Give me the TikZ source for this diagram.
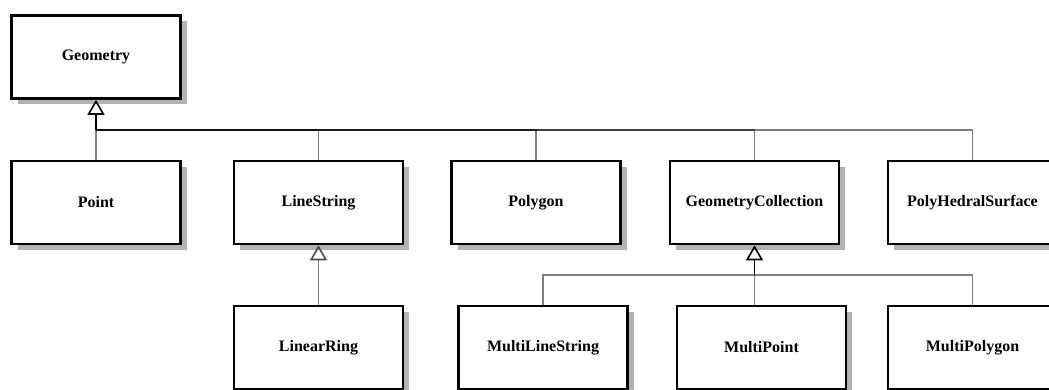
\documentclass[tikz,border=0pt]{standalone}
\usepackage{fontspec}
\setmainfont{Liberation Serif}
\usetikzlibrary{arrows.meta,shadows}
\begin{document}
\begin{tikzpicture}[x=1pt,y=-1pt,
  cls/.style={draw=black, line width=2.6pt, fill=white, minimum width=169pt, minimum height=83pt, inner sep=0pt,
    font=\fontsize{16}{19}\selectfont\bfseries,
    general shadow={fill=black!30, shadow xshift=6pt, shadow yshift=-6pt}},
  conn/.style={draw=black, line width=1.6pt, draw opacity=0.5},
  gen/.style={draw=black, line width=1.6pt, -{Triangle[open, width=17pt, length=15pt]}},
  genlight/.style={draw=black!50, line width=1.6pt, -{Triangle[open, width=17pt, length=15pt, color=black!70]}}
]
\useasboundingbox (0,0) rectangle (1049,390);
\clip (0,0) rectangle (1049,390);
% classes
\node[cls] (geo)   at (96,57)      {Geometry};
\node[cls] (pt)    at (96,202.5)   {Point};
\node[cls] (ls)    at (318.5,202.5){LineString};
\node[cls] (poly)  at (536,202.5)  {Polygon};
\node[cls] (gc)    at (754.5,202.5){GeometryCollection};
\node[cls] (phs)   at (972.5,202.5){PolyHedralSurface};
\node[cls] (lr)    at (318.5,347.5){LinearRing};
\node[cls] (mls)   at (543,347.5)  {MultiLineString};
\node[cls] (mp)    at (761.5,347.5){MultiPoint};
\node[cls] (mpoly) at (972.5,347.5){MultiPolygon};
% junctions
\coordinate (gj) at (96,130);
\coordinate (cj) at (754.5,275);
% generalisation to Geometry
\draw[conn] (pt.north) -- (gj);
\draw[conn] (ls.north) |- (gj);
\draw[conn] (poly.north) |- (gj);
\draw[conn] (gc.north) |- (gj);
\draw[conn] (phs.north) |- (gj);
\draw[gen] (gj) -- (geo.south);
% generalisation to GeometryCollection
\draw[conn] (mls.north) |- (cj);
\draw[conn] (mpoly.north) |- (cj);
\draw[conn] (mp.north -| gc.south) -- (cj);
\draw[gen] (cj) -- (gc.south);
% LinearRing to LineString
\draw[genlight] (lr.north) -- (ls.south);
\end{tikzpicture}
\end{document}
